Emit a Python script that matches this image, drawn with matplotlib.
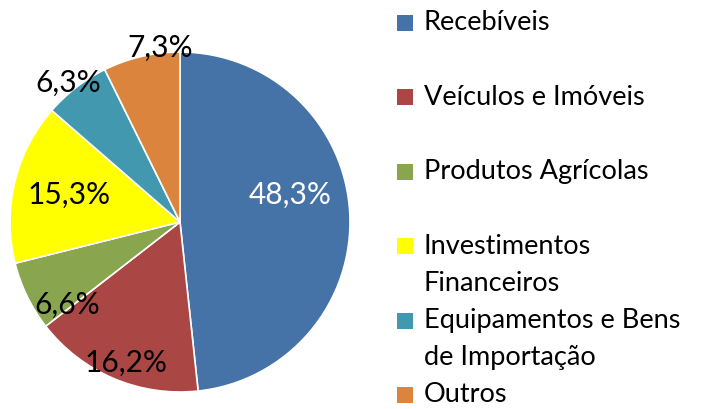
import matplotlib
matplotlib.use("Agg")
import matplotlib.pyplot as plt
import numpy as np
from matplotlib.patches import Rectangle

categories = ["Recebíveis", "Veículos e Imóveis", "Produtos Agrícolas",
              "Investimentos\nFinanceiros", "Equipamentos e Bens\nde Importação", "Outros"]
values = [48.3, 16.2, 6.6, 15.3, 6.3, 7.3]
pct_labels = ["48,3%", "16,2%", "6,6%", "15,3%", "6,3%", "7,3%"]

colors = ["#4572A7", "#AA4643", "#89A54E", "#FFFF00", "#4198AF", "#DB843D"]
label_colors = ["white", "black", "black", "black", "black", "black"]
label_dist = [0.67, 0.89, 0.82, 0.67, 1.05, 1.03]
label_dang = [10.7, 2.0, 10.3, -0.5, 1.3, -6.6]

plt.rcParams['font.family'] = ['Lato', 'DejaVu Sans']

fig = plt.figure(figsize=(7.08, 4.09), dpi=100)
W, H = 708, 409
ax = fig.add_axes([10 / W, (H - 392) / H, 340 / W, 340 / H])
wedges, _ = ax.pie(values, colors=colors, startangle=90, counterclock=False,
                   radius=1.0, wedgeprops=dict(edgecolor="white", linewidth=1.2))
ax.set_xlim(-1, 1)
ax.set_ylim(-1, 1)
ax.set_aspect("equal")
ax.axis("off")

for w, lab, c, d, da in zip(wedges, pct_labels, label_colors, label_dist, label_dang):
    ang = np.deg2rad((w.theta1 + w.theta2) / 2 + da)
    ax.text(d * np.cos(ang), d * np.sin(ang), lab, ha="center", va="center",
            fontsize=21.5, color=c, clip_on=False)

# legend
y0 = 23
step = 74.4
line_step = 37
for i, (cat, col) in enumerate(zip(categories, colors)):
    yc = y0 + i * step
    fig.patches.append(Rectangle((397 / W, (H - yc - 8) / H), 16 / W, 16 / H,
                                 transform=fig.transFigure, facecolor=col,
                                 edgecolor="none"))
    for j, line in enumerate(cat.split("\n")):
        fig.text(424 / W, (H - yc - j * line_step) / H, line, ha="left",
                 va="center", fontsize=19.5)

fig.savefig("out.png", dpi=100)
